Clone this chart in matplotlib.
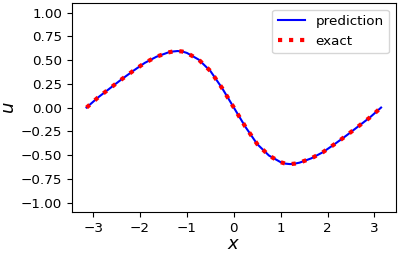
import matplotlib
matplotlib.use('Agg')
import matplotlib.pyplot as plt

# values
x = [-3.1416, -2.9, -2.65, -2.4, -2.15, -1.9, -1.65, -1.4, -1.3, -1.2, -1.1, -1.0,
     -0.75, -0.5, -0.25, 0.0, 0.25, 0.5, 0.75, 1.0, 1.1, 1.2, 1.3, 1.4,
     1.65, 1.9, 2.15, 2.4, 2.65, 2.9, 3.1416]
u_exact = [0.0, 0.105, 0.2, 0.295, 0.385, 0.47, 0.535, 0.58, 0.59, 0.595, 0.59, 0.575,
           0.505, 0.385, 0.205, 0.0, -0.205, -0.385, -0.505, -0.575, -0.59, -0.595, -0.59, -0.58,
           -0.535, -0.47, -0.385, -0.295, -0.2, -0.105, 0.0]
u_pred = list(u_exact)

fig = plt.figure(figsize=(3.99, 2.54), dpi=100)
ax = fig.add_axes([0.180, 0.165, 0.812, 0.823])
ax.plot(x, u_pred, 'b-', linewidth=1.5, label='prediction')
ax.plot(x, u_exact, 'r:', linewidth=3, label='exact')
ax.set_ylim(-1.1, 1.1)
ax.set_yticks([-1.0, -0.75, -0.5, -0.25, 0.0, 0.25, 0.5, 0.75, 1.0])
ax.set_xlabel('$x$', fontsize=13, labelpad=0)
ax.set_ylabel('$u$', fontsize=13, labelpad=2)
ax.tick_params(labelsize=9.7)
ax.legend(fontsize=9.7, loc='upper right')
fig.savefig('out.png', dpi=100)
